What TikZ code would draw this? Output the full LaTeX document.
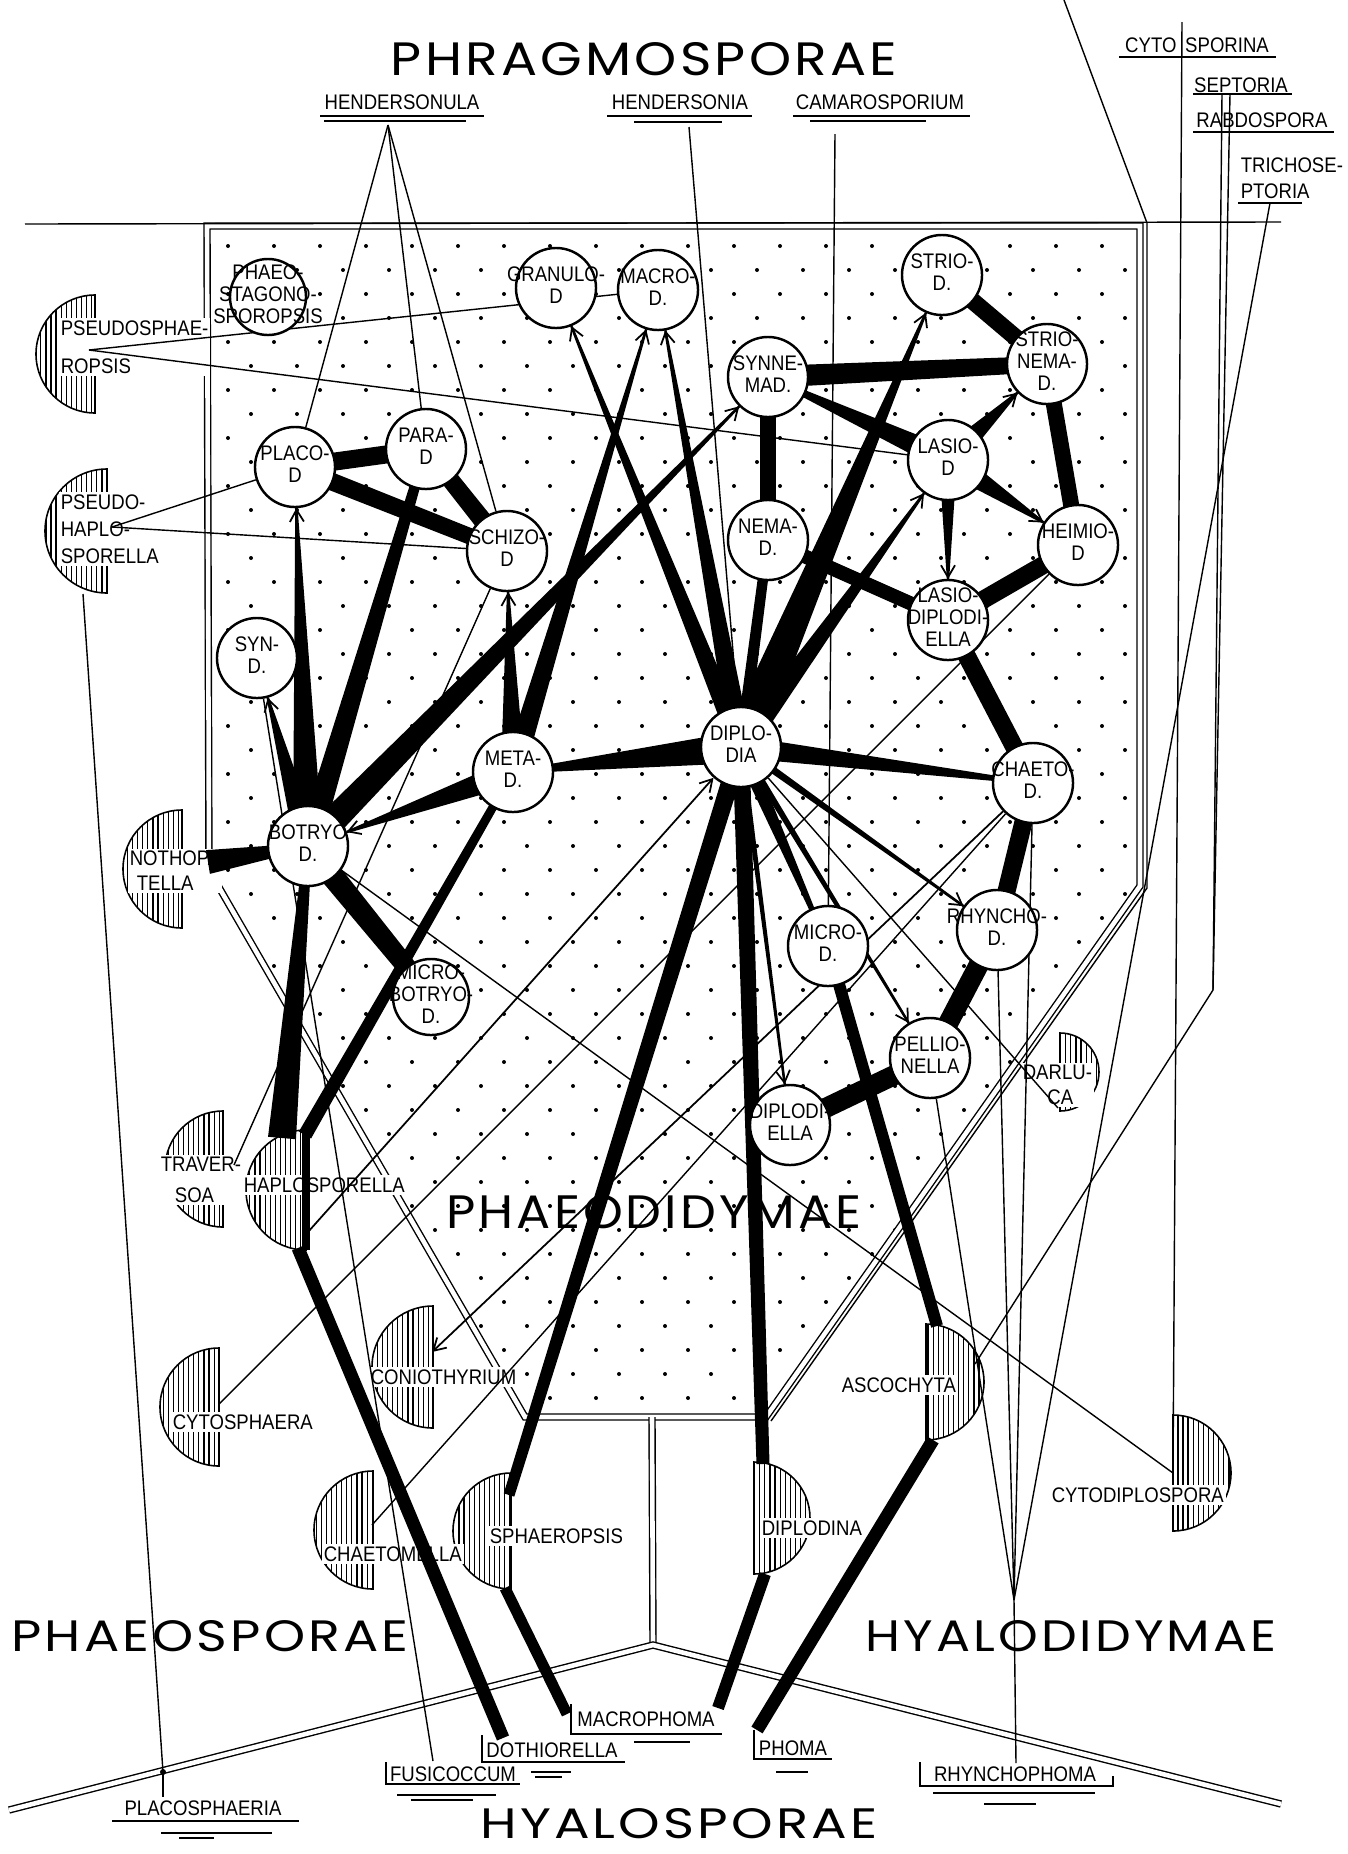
\documentclass[tikz,border=0pt]{standalone}
\usepackage{fontspec}
\usepackage{graphicx}
\usetikzlibrary{calc,arrows.meta,patterns.meta}
\newfontfamily\labfont[FakeStretch=0.88]{Liberation Sans}
\newfontfamily\ttlfont[LetterSpace=6]{Poppins}
\newcommand\lbf{\labfont\fontsize{6pt}{6.3pt}\selectfont}
\newcommand\gn[1]{\makebox[0pt]{\begin{tabular}{@{}c@{}}#1\end{tabular}}}
\newcommand\ttl[3]{\resizebox{#1}{#2}{\ttlfont #3}}
\pgfdeclarelayer{bg}
\pgfdeclarelayer{fg}
\pgfsetlayers{bg,main,fg}
% black band from #1 to #2, widths #3 and #4 in px
\newcommand\band[4]{\fill ($(#1)!{#3*0.005cm}!90:(#2)$) -- ($(#1)!{#3*0.005cm}!-90:(#2)$) -- ($(#2)!{#4*0.005cm}!90:(#1)$) -- ($(#2)!{#4*0.005cm}!-90:(#1)$) -- cycle;}
% tapering band with an arrow at the rim of genus #2
\newcommand\bandarr[3]{\coordinate (tip) at ($(#2)!0.41cm!(#1)$);
  \fill ($(#1)!{#3*0.005cm}!90:(tip)$) -- ($(#1)!{#3*0.005cm}!-90:(tip)$) -- ($(tip)!0.012cm!90:(#1)$) -- ($(tip)!0.012cm!-90:(#1)$) -- cycle;
  \draw[arr] ($(tip)!0.3cm!(#1)$) -- (tip);}
\newcommand\hdl[3]{\draw[hatch] (#1,#2+#3) arc[start angle=90,end angle=270,radius=#3] -- cycle;}
\newcommand\hdr[3]{\draw[hatch] (#1,#2-#3) arc[start angle=-90,end angle=90,radius=#3] -- cycle;}
\begin{document}
\begin{tikzpicture}[x=0.01cm,y=-0.01cm,line width=0.5pt,
  genus/.style={circle,draw,fill=white,line width=0.7pt,minimum size=0.8cm,inner sep=0pt,font=\lbf},
  txt/.style={font=\lbf,inner sep=0.6pt},
  wtxt/.style={txt,fill=white,align=left,anchor=west},
  big/.style={inner sep=0pt},
  hatch/.style={line width=0.45pt,pattern={Lines[angle=90,distance=1.45pt,line width=0.35pt]}},
  arr/.style={-{Straight Barb[length=1.2mm,width=1.4mm]},line width=0.5pt},
  dbl/.style={double,double distance=1.3pt,line width=0.4pt}]
\useasboundingbox (0,0) rectangle (1347,1854);

\begin{pgfonlayer}{fg}
\node[genus,minimum size=0.76cm] (phst) at (268,297) {\gn{PHAEO-\\STAGONO-\\SPOROPSIS}};
\node[genus] (granulo) at (556,288) {\gn{GRANULO-\\D}};
\node[genus] (macro) at (658,290) {\gn{MACRO-\\D.}};
\node[genus] (placo) at (295,467) {\gn{PLACO-\\D}};
\node[genus] (para) at (426,449) {\gn{PARA-\\D}};
\node[genus] (schizo) at (507,551) {\gn{SCHIZO-\\D}};
\node[genus] (syn) at (257,658) {\gn{SYN-\\D.}};
\node[genus] (botryo) at (308,846) {\gn{BOTRYO\\D.}};
\node[genus] (meta) at (513,772) {\gn{META-\\D.}};
\node[genus,minimum size=0.76cm] (microb) at (431,997) {\gn{MICRO-\\BOTRYO-\\D.}};
\node[genus] (strio) at (942,275) {\gn{STRIO-\\D.}};
\node[genus] (strionema) at (1047,364) {\gn{STRIO-\\NEMA-\\D.}};
\node[genus] (synne) at (768,377) {\gn{SYNNE-\\MAD.}};
\node[genus] (lasio) at (948,460) {\gn{LASIO-\\D}};
\node[genus] (nema) at (768,540) {\gn{NEMA-\\D.}};
\node[genus] (heimio) at (1078,545) {\gn{HEIMIO-\\D}};
\node[genus] (lasiodip) at (948,620) {\gn{LASIO-\\DIPLODI-\\ELLA}};
\node[genus] (diplodia) at (741,747) {\gn{DIPLO-\\DIA}};
\node[genus] (chaeto) at (1033,783) {\gn{CHAETO-\\D.}};
\node[genus] (rhyncho) at (997,930) {\gn{RHYNCHO-\\D.}};
\node[genus] (micro) at (828,946) {\gn{MICRO-\\D.}};
\node[genus] (pellio) at (930,1058) {\gn{PELLIO-\\NELLA}};
\node[genus] (diplodiella) at (790,1125) {\gn{DIPLODI-\\ELLA}};
\end{pgfonlayer}

\coordinate (psph) at (89,350);
\coordinate (phap) at (112,527);
\coordinate (phapB) at (83,594);
\coordinate (notho) at (208,862);
\coordinate (trav) at (234,1165);
\coordinate (haplT) at (282,1138);
\coordinate (haplR) at (305,1135);
\coordinate (haplE) at (308,1232);
\coordinate (haplB) at (298,1248);
\coordinate (coni) at (432,1352);
\coordinate (cysph) at (219,1404);
\coordinate (chmel) at (372,1525);
\coordinate (sphaeT) at (509,1495);
\coordinate (sphaeB) at (505,1588);
\coordinate (darl) at (1058,1108);
\coordinate (ascoT) at (937,1326);
\coordinate (ascoR) at (975,1364);
\coordinate (ascoB) at (933,1440);
\coordinate (dinaT) at (763,1464);
\coordinate (dinaB) at (765,1574);
\coordinate (cydip) at (1173,1473);
\coordinate (rhub) at (1014,1600);
\coordinate (phub) at (163,1772);
\coordinate (hdsuA) at (388,125);
\coordinate (hdsaA) at (689,127);
\coordinate (camoA) at (835,134);
\coordinate (cytoA) at (1182,22);
\coordinate (septA) at (1222,94);
\coordinate (rabdA) at (1230,94);
\coordinate (septK) at (1213,990);
\coordinate (tricA) at (1270,203);
\coordinate (dothA) at (503,1738);
\coordinate (mphA) at (567,1714);
\coordinate (mphB) at (718,1708);
\coordinate (phomA) at (757,1730);
\coordinate (fusiA) at (433,1761);
\coordinate (rhphA) at (1016,1763);
\coordinate (placA) at (163,1797);

\begin{pgfonlayer}{bg}
\begin{scope}
\clip (207,226) -- (1140,226) -- (1140,886) -- (766,1417) -- (525,1417) -- (209,870) -- cycle;
\foreach \r in {0,...,50}{
  \foreach \c in {0,...,20}{
    \fill ({228+46*\c+23*mod(\r,2)},{246+24*\r}) circle[radius=2];
  }
}
\end{scope}
\draw[dbl] (209,870) -- (207,226) -- (1140,226) -- (1140,886) -- (766,1417) -- (525,1417) -- cycle;
\draw[dbl] (652,1417) -- (653,1645);
\draw[dbl] (9,1810) -- (653,1645) -- (1281,1804);
\draw (25,224) -- (1281,222);
\draw (1064,0) -- (1147,223) -- (1147,888) -- (771,1421);
\end{pgfonlayer}

\node[big] (phrag) at (644,59) {\ttl{5.06cm}{0.33cm}{PHRAGMOSPORAE}};
\node[big] (phaeod) at (654,1212) {\ttl{4.15cm}{0.33cm}{PHAEODIDYMAE}};
\node[big] (phaeos) at (210,1636) {\ttl{3.97cm}{0.31cm}{PHAEOSPORAE}};
\node[big] (hyalod) at (1071,1636) {\ttl{4.10cm}{0.31cm}{HYALODIDYMAE}};
\node[big] (hyalos) at (679,1824) {\ttl{3.97cm}{0.30cm}{HYALOSPORAE}};

\node[txt] (hdsu) at (402,102) {HENDERSONULA};
\draw (320,116) -- (484,116); \draw (324,121) -- (466,121);
\node[txt] (hdsa) at (680,102) {HENDERSONIA};
\draw (607,116) -- (752,116); \draw (634,122) -- (722,122);
\node[txt] (camo) at (880,102) {CAMAROSPORIUM};
\draw (793,116) -- (970,116); \draw (810,121) -- (926,121);
\node[txt] (cyto) at (1197,45) {CYTO\hspace{2.5pt}SPORINA};
\draw (1119,57) -- (1276,57);
\node[txt] (sept) at (1241,85) {SEPTORIA};
\draw (1193,94) -- (1292,94);
\node[txt] (rabd) at (1262,120) {RABDOSPORA};
\draw (1193,132) -- (1334,132);
\node[txt,anchor=west,align=left] (tric) at (1238,178) {TRICHOSE-\\[1pt]PTORIA};
\draw (1238,203) -- (1302,203);

\node[txt] (dothio) at (552,1750) {DOTHIORELLA};
\draw (482,1735) -- (482,1762) -- (625,1762); \draw (531,1772) -- (571,1772); \draw (535,1777) -- (562,1777);
\node[txt] (macroph) at (646,1719) {MACROPHOMA};
\draw (571,1704) -- (571,1734) -- (722,1734); \draw (634,1742) -- (690,1742);
\node[txt] (phoma) at (793,1748) {PHOMA};
\draw (754,1730) -- (754,1759) -- (832,1759); \draw (776,1772) -- (808,1772);
\node[txt] (rhph) at (1015,1774) {RHYNCHOPHOMA};
\draw (920,1762) -- (920,1786) -- (1113,1786) -- (1113,1776); \draw (933,1793) -- (1095,1793); \draw (984,1804) -- (1036,1804);
\node[txt] (fusi) at (453,1774) {FUSICOCCUM};
\draw (386,1762) -- (386,1784) -- (520,1784); \draw (397,1795) -- (496,1795); \draw (411,1800) -- (473,1800);
\node[txt] (placsph) at (203,1808) {PLACOSPHAERIA};
\draw (112,1821) -- (299,1821); \draw (161,1833) -- (272,1833); \draw (179,1838) -- (214,1838);

\hdl{95}{354}{59}
\hdl{107}{531}{62}
\hdl{182}{869}{59}
\hdl{223}{1169}{58}
\hdl{306}{1190}{60}
\hdl{433}{1367}{61}
\hdl{219}{1407}{59}
\hdl{373}{1530}{59}
\hdl{511}{1531}{58}
\hdr{1060}{1072}{39}
\hdr{926}{1382}{58}
\hdr{754}{1518}{56}
\hdr{1173}{1473}{58}
\node[wtxt] (psphL) at (58,347) {PSEUDOSPHAE-\\[4.5pt]ROPSIS};
\node[wtxt] (phapL) at (58,529) {PSEUDO-\\[1.4pt]HAPLO-\\[1.4pt]SPORELLA};
\node[wtxt] (nothL) at (127,871) {NOTHOPA\\[0.8pt]\hspace*{2pt}TELLA};
\node[wtxt] (travL) at (158,1180) {TRAVER-\\[2.5pt]\hspace*{4pt}SOA};
\node[wtxt] (haplL) at (241,1185) {HAPLOSPORELLA};
\node[wtxt] (coniL) at (368,1377) {CONIOTHYRIUM};
\node[wtxt] (cysphL) at (170,1422) {CYTOSPHAERA};
\node[wtxt] (chmelL) at (321,1554) {CHAETOMELLA};
\node[wtxt] (sphaeL) at (487,1536) {SPHAEROPSIS};
\node[wtxt] (darlL) at (1020,1085) {DARLU-\\[0.8pt]\hspace*{7pt}CA};
\node[wtxt] (ascoL) at (839,1385) {ASCOCHYTA};
\node[wtxt] (dinaL) at (759,1528) {DIPLODINA};
\node[wtxt] (cydipL) at (1049,1495) {CYTODIPLOSPORA};

\draw (hdsuA) -- (placo); \draw (hdsuA) -- (para); \draw (hdsuA) -- (schizo);
\draw (hdsaA) -- (diplodia);
\draw (camoA) -- (micro);
\draw (cytoA) -- (cydip);
\draw (septA) -- (septK) -- (ascoR); \draw (rabdA) -- (septK);
\draw (tricA) -- (rhub);
\draw (psph) -- (macro); \draw (psph) -- (lasio);
\draw (phap) -- (placo); \draw (phap) -- (schizo); \draw (phapB) -- (phub);
\draw (syn) -- (fusiA);
\draw (trav) -- (schizo);
\draw[arr] (haplE) -- (diplodia);
\draw (botryo) -- (cydip);
\draw (heimio) -- (cysph);
\draw[arr] (chaeto) -- (coni);
\draw (chaeto) -- (chmel);
\draw (diplodia) -- (darl);
\draw (pellio) -- (rhub); \draw (rhyncho) -- (rhub); \draw (chaeto) -- (rhub);
\draw (rhub) -- (rhphA);
\draw (phub) -- (placA);
\fill (phub) circle[radius=3];

\band{placo}{para}{18}{18}
\band{placo}{schizo}{18}{16}
\band{para}{schizo}{17}{19}
\bandarr{botryo}{syn}{26}
\bandarr{botryo}{placo}{30}
\band{botryo}{para}{24}{9}
\bandarr{botryo}{synne}{28}
\bandarr{meta}{botryo}{26}
\bandarr{meta}{schizo}{24}
\bandarr{meta}{macro}{22}
\bandarr{diplodia}{macro}{22}
\bandarr{diplodia}{granulo}{20}
\band{diplodia}{meta}{32}{3}
\bandarr{diplodia}{strio}{38}
\bandarr{diplodia}{lasio}{24}
\band{nema}{diplodia}{10}{12}
\band{diplodia}{chaeto}{22}{3}
\bandarr{diplodia}{rhyncho}{8}
\bandarr{diplodia}{pellio}{7}
\bandarr{diplodia}{diplodiella}{6}
\band{diplodia}{micro}{16}{3}
\band{diplodia}{dinaT}{17}{13}
\band{diplodia}{sphaeT}{18}{11}
\band{synne}{strionema}{22}{16}
\band{strio}{strionema}{17}{17}
\band{strionema}{heimio}{16}{16}
\band{synne}{lasio}{3}{24}
\band{synne}{nema}{16}{16}
\bandarr{lasio}{strionema}{26}
\bandarr{lasio}{heimio}{26}
\bandarr{lasio}{lasiodip}{18}
\band{nema}{lasiodip}{14}{14}
\band{heimio}{lasiodip}{18}{18}
\band{lasiodip}{chaeto}{18}{18}
\band{chaeto}{rhyncho}{18}{18}
\band{rhyncho}{pellio}{20}{20}
\band{pellio}{diplodiella}{20}{20}
\band{micro}{ascoT}{12}{12}
\band{ascoB}{phomA}{13}{13}
\band{dinaB}{mphB}{12}{12}
\band{sphaeB}{mphA}{11}{11}
\band{haplB}{dothA}{13}{13}
\band{botryo}{microb}{24}{18}
\band{meta}{haplR}{8}{14}
\band{botryo}{haplT}{8}{28}
\band{botryo}{notho}{6}{24}
\draw[line width=2.3pt] (306,1131) -- (306,1250);
\end{tikzpicture}
\end{document}
